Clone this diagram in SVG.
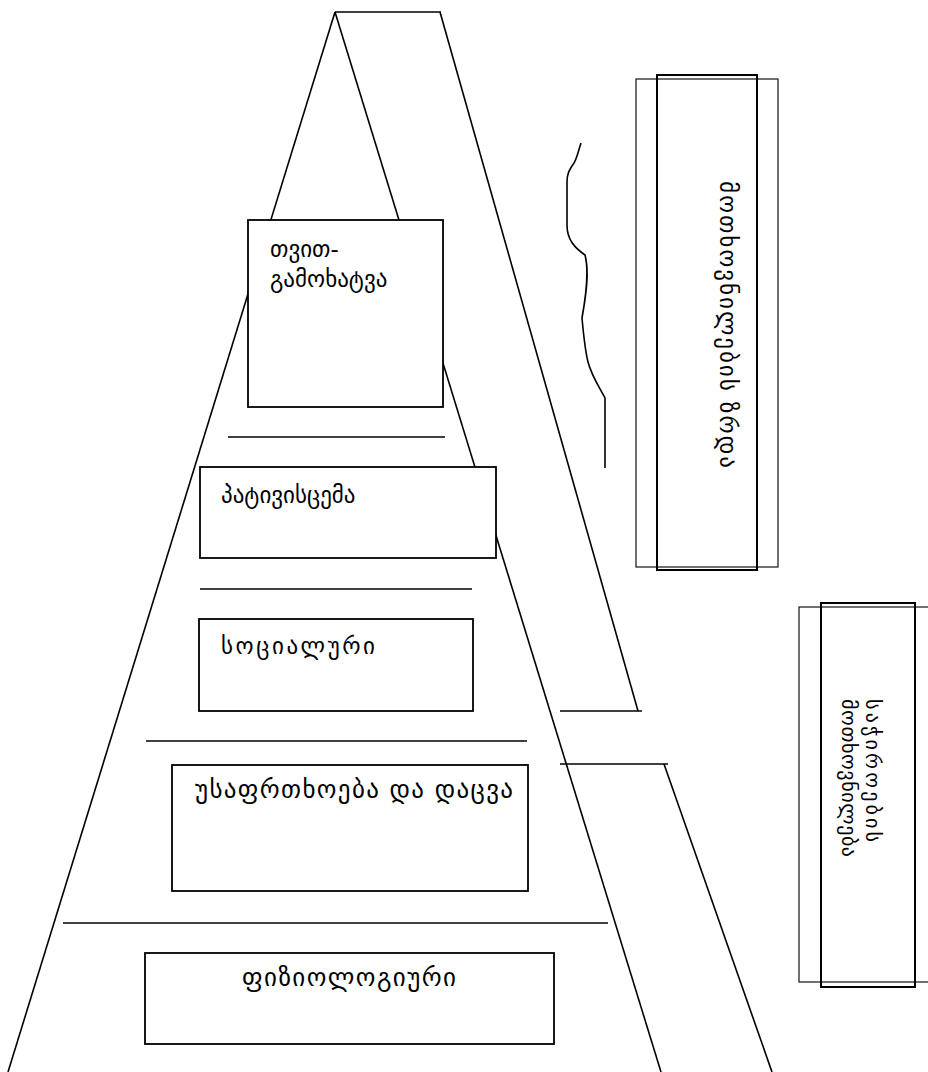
<svg xmlns="http://www.w3.org/2000/svg" width="928" height="1072" viewBox="0 0 928 1072">
  <style>
    .ln { stroke: #000; stroke-width: 1.6; fill: none; stroke-linecap: butt; }
    .box { fill: #fff; stroke: #000; stroke-width: 1.8; }
    .frame { fill: none; stroke: #111; stroke-width: 1.2; }
    .frame2 { fill: none; stroke: #000; stroke-width: 2; }
    .lbl { font-family: "DejaVu Sans", sans-serif; font-size: 23px; fill: #000; }
    .big { font-size: 25px; }
    .small { font-size: 20px; }
  </style>
  <rect x="0" y="0" width="928" height="1072" fill="#fff"/>

  <!-- pyramid outline, level separators and side ledges -->
  <g id="connectors">
    <line class="ln" x1="335" y1="12" x2="8" y2="1072"/>
    <line class="ln" x1="335" y1="12" x2="661" y2="1072"/>
    <line class="ln" x1="335" y1="12" x2="441" y2="12"/>
    <line class="ln" x1="440" y1="12" x2="638" y2="711"/>
    <line class="ln" x1="560" y1="711" x2="642" y2="711"/>
    <line class="ln" x1="560" y1="764" x2="668" y2="764"/>
    <line class="ln" x1="664" y1="764" x2="772" y2="1072"/>
    <line class="ln" x1="228" y1="437" x2="445" y2="437"/>
    <line class="ln" x1="200" y1="589" x2="472" y2="589"/>
    <line class="ln" x1="146" y1="741" x2="527" y2="741"/>
    <line class="ln" x1="63" y1="923" x2="608" y2="923"/>
    <path class="ln" d="M581,143 C578,152 577,158 574,163 C569,170 567,174 567,182 L567,225 C567,240 575,248 585,255 C589,270 587,290 582,318 C584,340 585,350 588,362 C592,377 600,388 605,398 L605,468"/>
  </g>

  <g id="self-actualization">
    <rect class="box" x="248" y="220" width="195" height="187"/>
    <text class="lbl" x="270" y="257">თვით-</text>
    <text class="lbl" x="270" y="287">გამოხატვა</text>
  </g>

  <g id="esteem">
    <rect class="box" x="200" y="467" width="296" height="91"/>
    <text class="lbl" x="221" y="503">პატივისცემა</text>
  </g>

  <g id="social">
    <rect class="box" x="199" y="619" width="274" height="92"/>
    <text class="lbl" x="221" y="654" textLength="154">სოციალური</text>
  </g>

  <g id="safety">
    <rect class="box" x="172" y="765" width="356" height="126"/>
    <text class="lbl big" x="195" y="798" textLength="318">უსაფრთხოება და დაცვა</text>
  </g>

  <g id="physiological">
    <rect class="box" x="145" y="953" width="409" height="91"/>
    <text class="lbl big" x="242" y="986" textLength="214">ფიზიოლოგიური</text>
  </g>

  <g id="needs-growth">
    <rect class="frame" x="636" y="79" width="142" height="488"/>
    <rect class="frame2" x="657" y="75" width="100" height="495"/>
    <text class="lbl" transform="translate(720,181) rotate(90)" textLength="287">მოთხოვნილების ზრდა</text>
  </g>

  <g id="deficit-needs">
    <rect class="frame" x="799" y="607" width="140" height="375"/>
    <rect class="frame2" x="821" y="603" width="94" height="384"/>
    <text class="lbl small" transform="translate(866,699) rotate(90)" textLength="143">საჭიროების</text>
    <text class="lbl small" transform="translate(842,699) rotate(90)" textLength="158">მოთხოვნილება</text>
  </g>
</svg>
